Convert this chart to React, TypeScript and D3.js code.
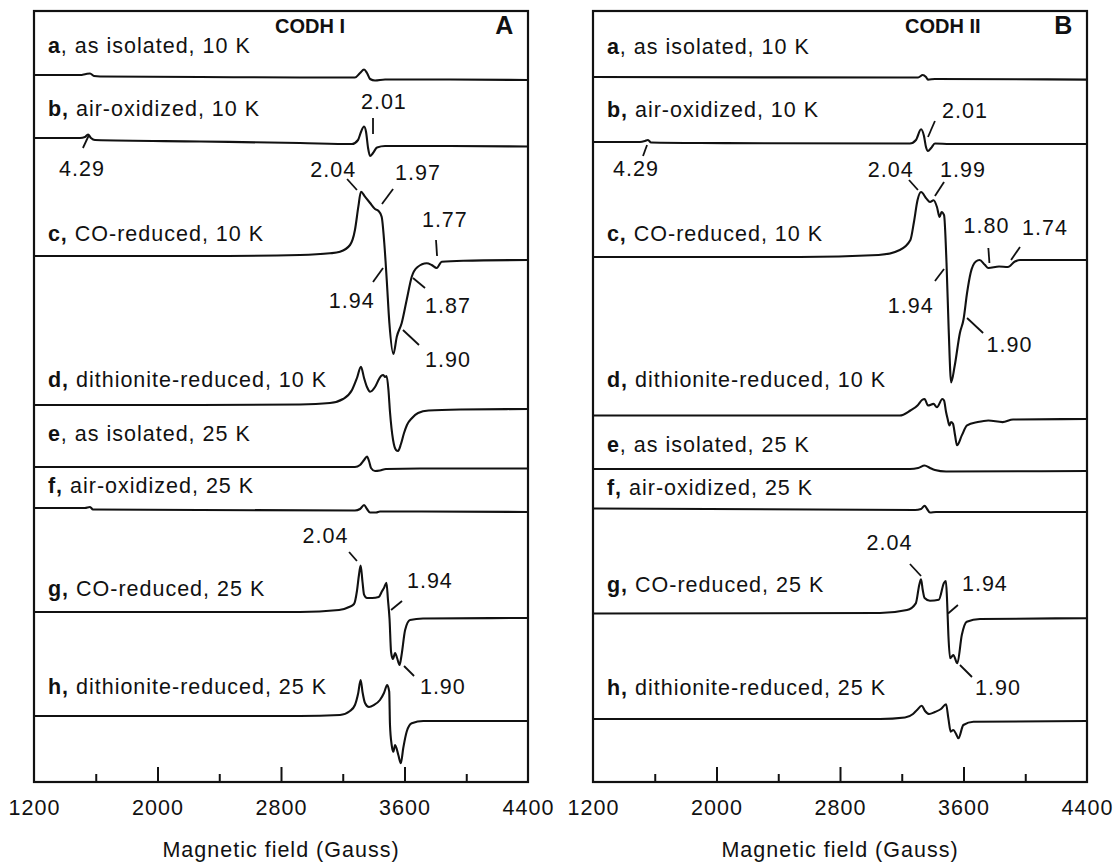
import React, { useEffect, useRef } from "react";
import * as d3 from "d3";

const FONT = "'Liberation Sans', Arial, Helvetica, sans-serif";

const majorTicks = [1200, 2000, 2800, 3600, 4400];
const minorTicks = [1600, 2400, 3200, 4000];

const letters = ["a", "b", "c", "d", "e", "f", "g", "h"];
const descriptions = [
  "as isolated, 10 K",
  "air-oxidized, 10 K",
  "CO-reduced, 10 K",
  "dithionite-reduced, 10 K",
  "as isolated, 25 K",
  "air-oxidized, 25 K",
  "CO-reduced, 25 K",
  "dithionite-reduced, 25 K",
];
const boldComma = [false, true, true, true, false, true, true, true];

// vertical stack position of the labels and of each spectrum's baseline
const labelLevelsI = [729, 666, 541, 395, 341, 289, 186, 88];
const labelLevelsII = [728, 665, 541, 395, 330, 287, 190, 87];
const offsetsI = [707, 644, 526, 377, 315, 274, 170, 66];
const offsetsII = [705, 640, 525, 366.5, 313, 273.5, 168.5, 63];

// CODH I spectra, [field (G), signal]
const specIa = [[1200, 0], [1498, 0], [1537, 1], [1563, 1.5], [1589, -1], [1628, -1.5], [2275, -2], [2923, -2.5], [3279, -2.5], [3312, 2], [3338, 5.5], [3357, 2], [3377, -4], [3409, -5.5], [3474, -4.5], [3895, -4.5], [4400, -5]];
const specIb = [[1200, 0], [1498, 0], [1530, 1], [1550, 3.5], [1569, 0], [1595, -2], [2275, -3.5], [2923, -5], [3260, -6], [3299, -2], [3318, 6], [3338, 11.5], [3351, 6], [3364, -10], [3377, -18], [3396, -15], [3422, -9.5], [3474, -8], [3895, -8], [4400, -8.5]];
const specIc = [[1200, 0], [2275, 0], [2923, 1], [3117, 2.7], [3182, 4.3], [3247, 11], [3279, 26], [3301, 49.3], [3318, 64.3], [3344, 59.3], [3377, 53], [3409, 47], [3430, 45.3], [3452, 39.3], [3469, 13], [3485, -24], [3502, -67], [3528, -98], [3550, -80.7], [3582, -67], [3614, -44], [3647, -20.7], [3683, -11.3], [3744, -7.3], [3776, -9], [3809, -12], [3841, -5.7], [3981, -4.7], [4400, -4]];
const specId = [[1200, 0], [2275, 0], [2923, 0.5], [3117, 2], [3202, 6], [3260, 15], [3292, 27], [3318, 38.3], [3338, 27], [3357, 18], [3377, 13.3], [3409, 18], [3435, 26], [3448, 29], [3463, 30], [3474, 28], [3484, 29], [3496, 15], [3506, -7], [3526, -35], [3545, -45], [3558, -46], [3577, -39], [3597, -28], [3616, -20], [3649, -13], [3688, -8], [3756, -5.5], [3960, -4.5], [4400, -4]];
const specIe = [[1200, 0], [2923, 0], [3279, 0], [3312, 2], [3338, 7], [3357, 10.5], [3370, 6], [3383, -1], [3409, -4], [3441, -3.5], [3480, -2], [3700, -1.5], [4400, -1.5]];
const specIf = [[1200, 0], [1530, 0], [1563, 1], [1582, -1.5], [2275, -2], [3279, -2.5], [3312, -1], [3338, 3], [3357, -1], [3377, -4.5], [3416, -4.5], [3441, -3.5], [4400, -4]];
const specIg = [[1200, 0], [2923, 0], [3176, 2], [3241, 5], [3273, 8], [3292, 21], [3305, 37], [3316, 46.4], [3328, 30], [3338, 17.4], [3357, 14], [3390, 14], [3433, 15], [3455, 21], [3467, 24], [3483, 29.3], [3493, 12], [3503, -6.7], [3513, -40], [3525, -47], [3539, -41], [3552, -46], [3568, -53], [3581, -43], [3604, -18], [3636, -8], [3720, -6.5], [4400, -6]];
const specIh = [[1200, 0], [2923, 0], [3182, 1], [3247, 5], [3279, 11], [3299, 22], [3316, 36], [3328, 24], [3344, 13], [3370, 9], [3402, 11], [3441, 16], [3467, 23], [3488, 31], [3501, 24.3], [3506, -9], [3517, -29], [3528, -35.7], [3539, -29], [3560, -39], [3576, -47.3], [3592, -32], [3614, -15.7], [3647, -7.3], [3722, -5], [4400, -5]];

// CODH II spectra, [field (G), signal]
const specIIa = [[1200, 0], [3189, -0.5], [3306, -0.5], [3336, 2], [3357, 0], [3370, -2.6], [3415, -2], [4400, -2.6]];
const specIIb = [[1200, 0], [1504, 0], [1537, 1], [1556, 2], [1576, -0.5], [1893, -1], [3253, -1.5], [3292, 2], [3325, 12.7], [3344, 6], [3357, -5], [3370, -9], [3390, -6], [3415, -1.5], [3513, -2], [4400, -2]];
const specIIc = [[1200, 0], [2541, 0], [3050, 2], [3187, 7], [3256, 17], [3279, 35], [3302, 56.7], [3325, 65], [3360, 58.4], [3383, 55], [3406, 56.7], [3428, 50], [3445, 40], [3458, 45], [3474, 41.8], [3490, -6], [3504, -72.4], [3520, -125.4], [3543, -108.8], [3577, -75.7], [3600, -62.5], [3623, -36], [3646, -16], [3680, -4.5], [3704, -3], [3738, -7.8], [3761, -11], [3830, -9.5], [3887, -10], [3933, -4.5], [3966, -3], [4400, -3]];
const specIId = [[1200, 0], [3187, 0], [3256, 5], [3302, 10], [3331, 15.5], [3348, 16.5], [3370, 10], [3406, 11.6], [3428, 8.3], [3463, 16.5], [3474, 15], [3487, 3.5], [3497, -3.3], [3509, -10], [3519, -6.5], [3532, -8.3], [3545, -19.5], [3558, -29.8], [3589, -19.9], [3623, -9.9], [3692, -6.6], [3761, -5], [3853, -6.6], [3921, -4], [4400, -3.5]];
const specIIe = [[1200, 0], [3253, 0], [3306, 1], [3348, 3.5], [3383, 1], [3415, -1], [3487, -2.5], [4400, -2]];
const specIIf = [[1200, 0], [3286, -1.5], [3325, -0.5], [3348, 2.8], [3364, -0.5], [3383, -4], [3422, -3.5], [4400, -3.5]];
const specIIg = [[1200, 0], [3059, 0.5], [3234, 3.5], [3291, 10.2], [3314, 29.1], [3325, 34.2], [3336, 23.5], [3348, 15.5], [3383, 12.7], [3440, 13.7], [3474, 30.8], [3486, 32.5], [3493, 15.5], [3502, -21.5], [3513, -44.8], [3534, -41.5], [3560, -49.8], [3589, -21.5], [3621, -8.2], [3707, -5.5], [4400, -4.8]];
const specIIh = [[1200, 0], [3059, 0], [3221, 1.5], [3273, 5], [3299, 9], [3329, 13.3], [3351, 8], [3377, 5], [3415, 7], [3454, 10], [3487, 14.7], [3502, 0.7], [3517, -12.7], [3534, -11], [3552, -15], [3567, -19.3], [3599, -6], [3664, -2.7], [4400, -2]];

// g-value annotations: text (field, level) and leader line (field, level) -> (field, level)
const notesI = [
  ["4.29", 1362, 606, 1556, 647, 1517, 634],
  ["2.01", 3318, 673, 3396, 664, 3396, 648],
  ["2.04", 2990, 605, 3228, 603, 3292, 592],
  ["1.97", 3539, 602, 3526, 593, 3454, 578],
  ["1.77", 3713, 555, 3804, 542, 3811, 526],
  ["1.94", 3110, 474, 3461, 514, 3396, 500],
  ["1.87", 3733, 469, 3655, 504, 3733, 494],
  ["1.90", 3733, 415, 3590, 452, 3694, 437],
  ["2.04", 2940, 239, 3241, 230, 3292, 221],
  ["1.94", 3616, 194, 3584, 181, 3513, 172],
  ["1.90", 3700, 88, 3597, 116, 3662, 106],
];
const notesII = [
  ["4.29", 1330, 606, 1550, 637, 1524, 626],
  ["2.01", 3461, 664, 3415, 661, 3370, 645],
  ["2.04", 2980, 605, 3247, 602, 3305, 592],
  ["1.99", 3448, 605, 3474, 600, 3415, 586],
  ["1.80", 3600, 549, 3761, 534, 3768, 519],
  ["1.74", 3979, 547, 3966, 535, 3908, 522],
  ["1.94", 3110, 469, 3474, 513, 3415, 501],
  ["1.90", 3749, 430, 3623, 464, 3727, 449],
  ["2.04", 2972, 232, 3253, 218, 3325, 206],
  ["1.94", 3590, 191, 3564, 177, 3500, 168.5],
  ["1.90", 3675, 87, 3577, 117, 3655, 105],
];

const panels = [
  { left: 34, title: "CODH I", titleAt: 2761, tag: "A", spectra: [specIa, specIb, specIc, specId, specIe, specIf, specIg, specIh], offsets: offsetsI, levels: labelLevelsI, notes: notesI },
  { left: 593, title: "CODH II", titleAt: 3221, tag: "B", spectra: [specIIa, specIIb, specIIc, specIId, specIIe, specIIf, specIIg, specIIh], offsets: offsetsII, levels: labelLevelsII, notes: notesII },
];

export default function App() {
  const ref = useRef<SVGSVGElement>(null);

  useEffect(() => {
    const svg = d3.select(ref.current);
    svg.selectAll("*").remove();

    const panelW = 494;
    const top = 11, bottom = 782;
    const y = d3.scaleLinear().domain([0, 771]).range([bottom, top]);
    const fs = "21.5px", ls = "1px";

    panels.forEach((p) => {
      const x = d3.scaleLinear().domain([1200, 4400]).range([p.left, p.left + panelW]);
      const g = svg.append("g").style("font-family", FONT);

      g.append("rect")
        .attr("x", p.left).attr("y", top)
        .attr("width", panelW).attr("height", bottom - top)
        .attr("fill", "none").attr("stroke", "#111").attr("stroke-width", 2.2);

      // ticks inside the frame, labels below
      const major = d3.axisBottom(x).tickValues(majorTicks).tickSize(-15).tickPadding(18).tickFormat(d3.format("d"));
      const ax = g.append("g").attr("transform", `translate(0,${bottom})`).call(major);
      ax.select(".domain").remove();
      ax.selectAll("line").attr("stroke", "#111").attr("stroke-width", 2);
      ax.selectAll("text")
        .attr("fill", "#111").style("font-family", FONT).style("font-size", fs)
        .style("letter-spacing", ls);
      ax.selectAll(".tick").filter((d: any) => d === 1200 || d === 4400).select("line").remove();

      const minor = d3.axisBottom(x).tickValues(minorTicks).tickSize(-8).tickFormat(() => "");
      const ax2 = g.append("g").attr("transform", `translate(0,${bottom})`).call(minor);
      ax2.select(".domain").remove();
      ax2.selectAll("line").attr("stroke", "#111").attr("stroke-width", 2);

      g.append("text")
        .attr("x", p.left + panelW / 2).attr("y", 857)
        .attr("text-anchor", "middle")
        .style("font-size", fs).style("letter-spacing", ls)
        .attr("fill", "#111")
        .text("Magnetic field (Gauss)");

      // spectra
      const line = d3.line<number[]>()
        .x((d) => x(d[0]))
        .curve(d3.curveMonotoneX);
      p.spectra.forEach((s, i) => {
        g.append("path")
          .attr("d", line.y((d) => y(p.offsets[i] + d[1]))(s))
          .attr("fill", "none").attr("stroke", "#111")
          .attr("stroke-width", 2.1).attr("stroke-linejoin", "round");
      });

      // sample labels
      p.levels.forEach((lv, i) => {
        const t = g.append("text")
          .attr("x", x(1290)).attr("y", y(lv))
          .attr("fill", "#111")
          .style("font-size", fs).style("letter-spacing", ls);
        t.append("tspan").style("font-weight", "bold").text(boldComma[i] ? letters[i] + "," : letters[i]);
        t.append("tspan").text((boldComma[i] ? " " : ", ") + descriptions[i]);
      });

      // headings
      g.append("text")
        .attr("x", x(p.titleAt)).attr("y", y(749))
        .attr("fill", "#111")
        .style("font-size", "20px").style("font-weight", "bold")
        .text(p.title);
      g.append("text")
        .attr("x", x(4305)).attr("y", y(748))
        .attr("text-anchor", "end")
        .attr("fill", "#111")
        .style("font-size", "25px").style("font-weight", "bold")
        .text(p.tag);

      // g-value annotations
      p.notes.forEach((n: any) => {
        g.append("text")
          .attr("x", x(n[1])).attr("y", y(n[2]))
          .attr("fill", "#111")
          .style("font-size", fs).style("letter-spacing", ls)
          .text(n[0]);
        g.append("line")
          .attr("x1", x(n[3])).attr("y1", y(n[4]))
          .attr("x2", x(n[5])).attr("y2", y(n[6]))
          .attr("stroke", "#111").attr("stroke-width", 1.8);
      });
    });
  }, []);

  return (
    <svg
      ref={ref}
      width={1115}
      height={865}
      style={{ position: "absolute", left: 0, top: 0, background: "#fff" }}
    />
  );
}
